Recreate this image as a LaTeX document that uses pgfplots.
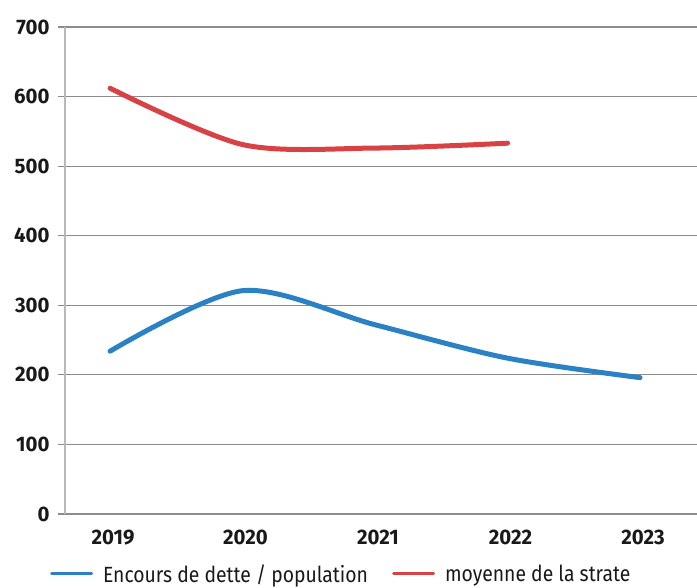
\documentclass[border=0pt]{standalone}
\usepackage{pgfplots}
\pgfplotsset{compat=1.18}
\usepackage{fontspec}
\setmainfont{Fira Sans}[FakeStretch=0.88]
\newfontfamily\tickfont{Fira Sans}[FakeStretch=0.97]
\definecolor{cblue}{RGB}{42,130,196}
\definecolor{cred}{RGB}{217,66,68}
\definecolor{gridc}{RGB}{140,140,140}
\definecolor{axc}{RGB}{185,185,185}
\definecolor{txt}{RGB}{25,25,25}
\begin{document}
\begin{tikzpicture}
\useasboundingbox (-65pt,-74pt) rectangle (632pt,514pt);
\begin{axis}[
  at={(0pt,0pt)}, anchor=south west,
  scale only axis,
  width=632pt, height=487pt,
  xmin=-0.34, xmax=4.43,
  ymin=0, ymax=700,
  xtick={0,1,2,3,4},
  xticklabels={2019,2020,2021,2022,2023},
  ytick={0,100,...,700},
  axis x line*=bottom, axis y line*=left,
  x axis line style={draw=gridc, line width=1.2pt},
  y axis line style={draw=axc, line width=1.2pt},
  ymajorgrids,
  major grid style={draw=gridc, line width=1.2pt},
  tick align=outside,
  major tick length=7pt,
  ytick style={draw=gridc, line width=1.2pt},
  xtick style={draw=none},
  /pgf/number format/assume math mode=true,
  tick label style={font=\tickfont\bfseries\fontsize{21}{23}\selectfont, text=txt},
  yticklabel style={xshift=-5pt},
  xticklabel style={yshift=-5pt, xshift=3pt},
  legend style={draw=none, fill=none, legend columns=2,
    font=\fontsize{22}{24}\selectfont, text=txt,
    at={(0.437,-0.123)}, anchor=center,
    /tikz/every odd column/.append style={column sep=8pt},
    /tikz/every even column/.append style={column sep=22pt}},
  legend image code/.code={\draw[#1,line width=3pt] (0pt,0pt) -- (40pt,0pt);},
  clip=false,
]
\addplot[cblue, line width=5pt, smooth, tension=0.5, line cap=round] coordinates {
  (0,234) (1,321) (2,272) (3,224) (4,196)};
\addlegendentry{Encours de dette / population}
\addplot[cred, line width=5pt, smooth, tension=0.5, line cap=round] coordinates {
  (0,612) (1,531) (2,526) (3,533)};
\addlegendentry{moyenne de la strate}
\end{axis}
\end{tikzpicture}
\end{document}
